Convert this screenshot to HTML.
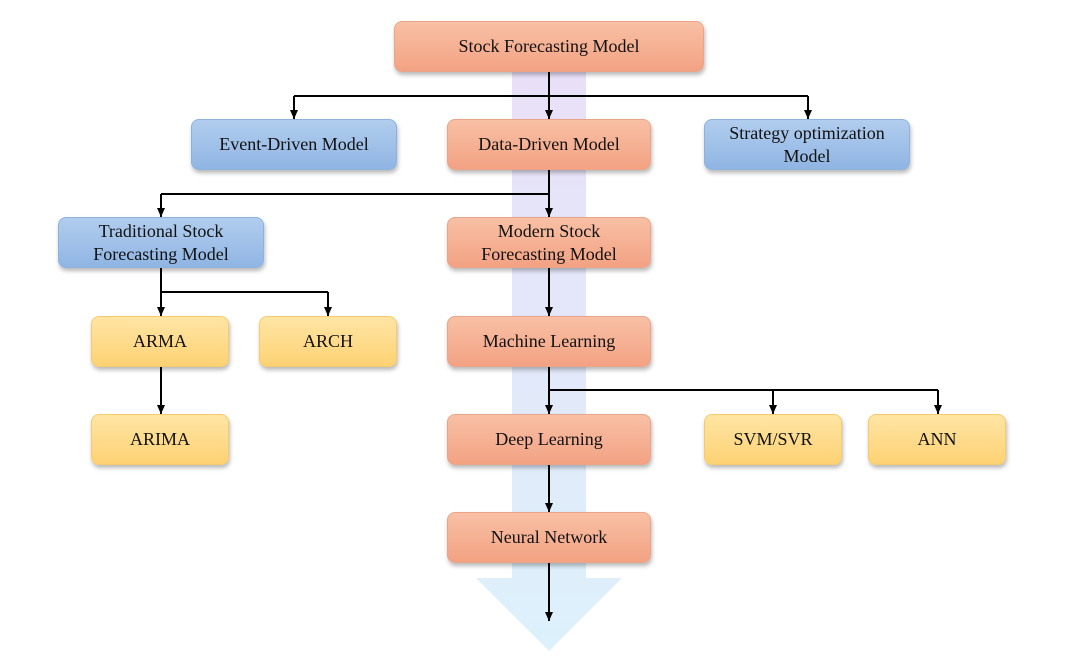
<!DOCTYPE html>
<html><head><meta charset="utf-8">
<style>
html,body{margin:0;padding:0;background:#fff;}
#c{position:relative;width:1080px;height:662px;overflow:hidden;font-family:"Liberation Serif",serif;}
.b{position:absolute;box-sizing:border-box;border-radius:8px;display:flex;align-items:center;justify-content:center;text-align:center;font-size:18px;line-height:23px;color:#111;box-shadow:1px 3px 4px rgba(0,0,0,0.28);}
.o{background:linear-gradient(#f8c0a5,#f3a283);border:1px solid #eaa588;}
.u{background:linear-gradient(#b1cdee,#90b5e3);border:1px solid #8eb2de;}
.y{background:linear-gradient(#ffe5a4,#fdd274);border:1px solid #f5cb6c;}
svg{position:absolute;left:0;top:0;}
</style></head><body>
<div id="c">
<svg width="1080" height="662">
<defs>
<linearGradient id="g" x1="0" y1="0" x2="0" y2="1">
<stop offset="0" stop-color="#e9e0f8"/><stop offset="1" stop-color="#dcf1fb"/>
</linearGradient>
<marker id="a" markerWidth="10" markerHeight="10" refX="9" refY="5" orient="auto" markerUnits="userSpaceOnUse">
<path d="M0,1 L9,5 L0,9 Z" fill="#000"/></marker>
</defs>
<path d="M512,72 L586,72 L586,578 L622,578 L549,651 L476,578 L512,578 Z" fill="url(#g)"/>
<g stroke="#000" stroke-width="2" fill="none">
<path d="M549,72 V96"/><path d="M294,96 H808"/>
<path d="M294,96 V119" marker-end="url(#a)"/>
<path d="M549,96 V119" marker-end="url(#a)"/>
<path d="M808,96 V119" marker-end="url(#a)"/>
<path d="M549,170 V194 H161"/>
<path d="M161,194 V217" marker-end="url(#a)"/>
<path d="M549,194 V217" marker-end="url(#a)"/>
<path d="M161,268 V292 H328"/>
<path d="M161,292 V316" marker-end="url(#a)"/>
<path d="M328,292 V316" marker-end="url(#a)"/>
<path d="M161,367 V414" marker-end="url(#a)"/>
<path d="M549,268 V316" marker-end="url(#a)"/>
<path d="M549,367 V390 H938"/>
<path d="M549,390 V414" marker-end="url(#a)"/>
<path d="M773,390 V414" marker-end="url(#a)"/>
<path d="M938,390 V414" marker-end="url(#a)"/>
<path d="M549,465 V512" marker-end="url(#a)"/>
<path d="M549,563 V621" marker-end="url(#a)"/>
</g>
</svg>
<div class="b o" style="left:394px;top:21px;width:310px;height:51px;">Stock Forecasting Model</div>
<div class="b u" style="left:191px;top:119px;width:206px;height:51px;">Event-Driven Model</div>
<div class="b o" style="left:447px;top:119px;width:204px;height:51px;">Data-Driven Model</div>
<div class="b u" style="left:704px;top:119px;width:206px;height:51px;">Strategy optimization<br>Model</div>
<div class="b u" style="left:58px;top:217px;width:206px;height:51px;">Traditional Stock<br>Forecasting Model</div>
<div class="b o" style="left:447px;top:217px;width:204px;height:51px;">Modern Stock<br>Forecasting Model</div>
<div class="b y" style="left:91px;top:316px;width:138px;height:51px;">ARMA</div>
<div class="b y" style="left:259px;top:316px;width:138px;height:51px;">ARCH</div>
<div class="b o" style="left:447px;top:316px;width:204px;height:51px;">Machine Learning</div>
<div class="b y" style="left:91px;top:414px;width:138px;height:51px;">ARIMA</div>
<div class="b o" style="left:447px;top:414px;width:204px;height:51px;">Deep Learning</div>
<div class="b y" style="left:704px;top:414px;width:138px;height:51px;">SVM/SVR</div>
<div class="b y" style="left:868px;top:414px;width:138px;height:51px;">ANN</div>
<div class="b o" style="left:447px;top:512px;width:204px;height:51px;">Neural Network</div>
</div>
</body></html>
